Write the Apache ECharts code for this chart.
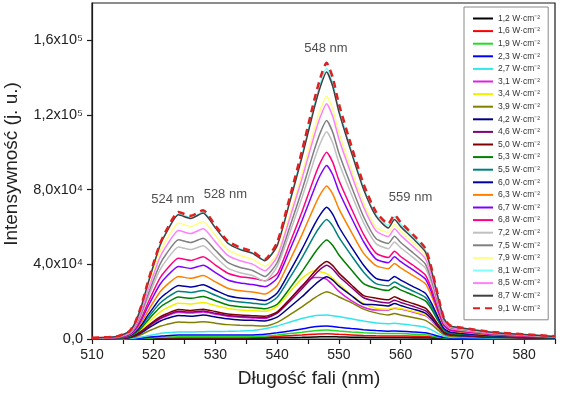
<!DOCTYPE html>
<html><head><meta charset="utf-8">
<script src="https://cdn.jsdelivr.net/npm/echarts@6/dist/echarts.min.js"></script>
<style>html,body{margin:0;padding:0;background:#fff}#c{width:567px;height:399px}</style>
</head><body><div id="c"></div>
<script>
// wavelength (nm)
const wavelengths = [510,514,516,517,518,519,520,521,522,524,526,528,530,532,534,536,538,540,542,544,546,547,548,549,550,552,554,556,558,559,560,562,564,565,566,567,568,570,575,585];
const xTickValues = [510,520,530,540,550,560,570,580];
// intensity in units of 10^3
const yTickValues = [0,40,80,120,160];
const yTickLabels = ['0,0','4,0x10\u2074','8,0x10\u2074','1,2x10\u2075','1,6x10\u2075'];
const seriesNames = ['1,2 W·cm⁻²','1,6 W·cm⁻²','1,9 W·cm⁻²','2,3 W·cm⁻²','2,7 W·cm⁻²','3,1 W·cm⁻²','3,4 W·cm⁻²','3,9 W·cm⁻²','4,2 W·cm⁻²','4,6 W·cm⁻²','5,0 W·cm⁻²','5,3 W·cm⁻²','5,5 W·cm⁻²','6,0 W·cm⁻²','6,3 W·cm⁻²','6,7 W·cm⁻²','6,8 W·cm⁻²','7,2 W·cm⁻²','7,5 W·cm⁻²','7,9 W·cm⁻²','8,1 W·cm⁻²','8,5 W·cm⁻²','8,7 W·cm⁻²','9,1 W·cm⁻²'];

const s1_2 = [0.3,0.3,0.3,0.3,0.4,0.4,0.4,0.5,0.5,0.5,0.5,0.5,0.5,0.5,0.5,0.5,0.6,0.7,0.8,0.9,1.1,1.2,1.2,1.2,1.1,1,0.9,0.8,0.8,0.8,0.8,0.7,0.7,0.6,0.5,0.4,0.4,0.3,0.3,0.3];
const s1_6 = [0.8,0.8,0.8,0.8,0.8,0.8,0.8,0.8,0.8,0.8,0.8,0.8,0.8,0.8,0.8,0.9,1.1,1.4,1.8,2.2,2.6,2.7,2.8,2.7,2.5,2.2,1.9,1.7,1.6,1.6,1.6,1.5,1.4,1.2,1,0.9,0.8,0.8,0.8,0.8];
const s1_9 = [0,0,0.1,0.2,0.3,0.5,0.7,0.9,1,1.2,1.2,1.2,1.2,1.2,1.2,1.3,1.6,2.2,2.9,3.6,4.4,4.7,4.8,4.6,4.3,3.8,3.4,3.1,2.9,3,2.9,2.6,2.3,1.8,1.1,0.6,0.4,0.3,0.2,0.1];
const s2_3 = [0,0.1,0.2,0.3,0.5,0.9,1.2,1.5,1.8,2.1,2.1,2.1,2.1,2.1,2.1,2.2,2.5,3.3,4.3,5.4,6.5,6.8,6.9,6.7,6.3,5.6,5,4.5,4.2,4.3,4.2,3.8,3.3,2.6,1.6,0.8,0.5,0.4,0.3,0.1];
const s2_7 = [0.1,0.1,0.3,0.5,1,1.7,2.3,2.9,3.3,3.8,3.7,3.9,4,4.1,4.3,4.6,5.5,7,9,11,12.5,12.7,12.8,12.5,12,10.8,9.6,8.6,8.2,8.4,8.1,7.3,6.3,4.9,3,1.5,1,0.8,0.5,0.2];
const s3_1 = [0.2,0.3,0.8,1.9,3.8,6.2,8.6,10.7,12.2,14.3,13.9,14.5,13.3,12.2,11.6,11.3,11,14,21,28.5,33,33,32,29,25.5,20.5,17,15.5,15.5,16.5,16,14.5,12.5,10,6.2,2.9,1.8,1.4,0.9,0.4];
const s3_4 = [0.2,0.4,1.1,2.5,5.1,8.4,11.5,14.4,16.4,19.2,18.7,19.5,17.9,16.4,15.6,15.2,14.8,17.5,25,32.5,36.5,36,35,32.5,29.5,23.5,19,16.5,16,16.8,16.3,14.8,13,10.5,6.5,3,1.8,1.4,0.9,0.4];
const s3_9 = [0.1,0.2,0.5,1.2,2.4,4,5.4,6.8,7.7,9.1,8.8,9.2,8.5,7.7,7.4,7.2,7,8.9,12.9,17.2,21.9,23.9,25.3,24.2,22.5,19.5,16,14,12.9,13.7,12.9,11.5,10,7.8,4.9,2.3,1.5,1.2,0.8,0.3];
const s4_2 = [0.2,0.3,0.7,1.7,3.3,5.5,7.6,9.5,10.8,12.6,12.2,12.8,11.8,10.8,10.2,10,9.7,11.7,17,22.6,28.8,31.5,33.3,31.5,28.3,23.3,18.6,18.4,17.7,19,17.9,16,13.9,10.8,6.8,3.2,2.1,1.7,1,0.4];
const s4_6 = [0.2,0.3,0.9,2,3.9,6.5,8.9,11.1,12.6,14.8,14.4,15,13.8,12.6,12,11.7,11.4,13.8,20.1,26.9,34.2,37.4,39.5,37.4,33.6,27.7,22.1,20.2,19.3,20.8,19.6,17.5,15.2,11.9,7.5,3.5,2.3,1.9,1.1,0.5];
const s5_0 = [0.2,0.3,0.9,2.1,4.2,6.9,9.4,11.8,13.4,15.8,15.3,16,14.7,13.4,12.8,12.5,12.2,14.5,21.2,28.2,35.9,39.3,41.5,39.3,35.3,29.1,23.2,21.9,21,22.6,21.2,19,16.5,12.9,8.1,3.8,2.5,2,1.2,0.5];
const s5_3 = [0.2,0.5,1.3,3,5.9,9.8,13.5,16.9,19.2,22.5,21.8,22.8,20.5,18.2,17.3,16.9,16.2,18.6,27,36,45.8,50.1,53,50.1,45,37.1,29.7,27.2,26,28,26.3,23.5,20.4,16,10.1,4.8,3.1,2.5,1.5,0.6];
const s5_5 = [0.3,0.5,1.5,3.4,6.8,11.2,15.3,19.2,21.8,25.6,24.9,26,23.4,20.8,19.8,19.2,18.5,22.4,32.6,43.5,55.4,60.5,64,60.5,54.4,44.8,35.8,29.7,28.5,30.6,28.8,25.7,22.3,17.4,11,5.2,3.4,2.8,1.7,0.7];
const s6_0 = [0.3,0.6,1.7,3.8,7.5,12.5,17.1,21.5,24.4,28.6,27.8,29,26.1,23.2,22,21.5,20.6,24.7,36,48,61.1,66.8,70.6,66.8,60,49.4,39.5,32.5,31.2,33.5,31.5,28.1,24.5,19.1,12.1,5.7,3.7,3,1.8,0.7];
const s6_3 = [0.3,0.7,2,4.4,8.8,14.6,20.1,25.2,28.6,33.5,32.5,34,30.6,27.2,25.8,25.2,24.1,28.7,41.8,55.8,70.9,77.6,82,77.6,69.7,57.4,45.9,39.3,37.7,40.5,38.1,34,29.6,23.1,14.6,6.9,4.5,3.6,2.2,0.9];
const s6_7 = [0.3,0.8,2.3,5.1,10.3,17,23.3,29.2,33.2,38.9,37.8,39.5,35.6,31.6,30,29.2,28,32.6,47.4,63.2,80.4,88,93,88,79,65.1,52.1,42.8,40.9,44,41.4,37,32.1,25.1,15.8,7.5,4.8,4,2.4,1];
const s6_8 = [0.4,0.9,2.6,5.7,11.4,18.9,26,32.6,37,43.3,42.1,44,39.6,35.2,33.4,32.6,31.2,35,51,68,86.5,94.6,100,94.6,85,70,56,46,43.7,47,44.2,39.5,34.3,26.8,16.9,8,5.2,4.2,2.6,1];
const s7_2 = [0.4,1,2.9,6.5,13,21.5,29.5,37,42,49.3,47.9,50,44,38,35.5,34,31,38.9,56.6,75.5,96,105,111,105,94.4,77.7,62.2,51.1,48.4,52,48.9,43.7,38,29.6,18.7,8.8,5.7,4.7,2.9,1.1];
const s7_5 = [0.4,1.1,3.1,7,14,23.2,31.9,40,45.4,53.2,51.7,54,47.5,41,38.3,36.7,33.5,41,59.7,79.6,101.2,110.7,117,110.7,99.5,81.9,65.5,53.8,51.2,55,51.7,46.2,40.2,31.4,19.8,9.4,6.1,5,3,1.2];
const s7_9 = [0.5,1.3,3.7,8.2,16.4,27.1,37.2,46.6,52.9,62.1,60.3,63,55.4,47.9,44.7,42.8,39.1,45.5,66.3,88.4,112.5,123,130,123,110.5,91,72.8,59.8,57.2,61.5,57.8,51.7,44.9,35.1,22.1,10.5,6.8,5.5,3.4,1.4];
const s8_1 = [0.5,1.4,3.9,8.8,17.7,29.2,40.1,50.3,57.1,67,65.1,68,59.8,51.7,48.3,46.2,42.2,50.8,74,98.6,125.4,137.2,145,137.2,123.3,101.5,81.2,66.7,60.9,65.5,61.6,55,47.8,37.3,23.6,11.1,7.2,5.9,3.6,1.4];
const s8_5 = [0.5,1.2,3.4,7.7,15.3,25.4,34.8,43.7,49.6,58.1,56.5,59,51.9,44.8,41.9,40.1,36.6,44.1,64.3,85.7,109,119.2,126,119.2,107.1,88.2,70.6,58,54.9,59,55.5,49.6,43.1,33.6,21.2,10,6.5,5.3,3.2,1.3];
const s8_7 = [0.5,1.4,3.9,8.8,17.6,29,39.8,50,56.7,66.5,64.6,67.5,59.4,51.3,47.9,45.9,41.9,50,72.9,97.2,123.7,135.3,143,135.3,121.6,100.1,80.1,65.8,59.5,64,60.2,53.8,46.7,36.5,23,10.9,7,5.8,3.5,1.4];
const s9_1 = [0.6,1.4,4.0,9.0,18,30,41,51,58,68,66,69,60.7,52.4,49,46.9,42.8,51.8,75.5,100.6,128,140,148,140,125.8,103.6,82.9,68.1,61.8,66.5,62.5,55.9,48.5,37.9,23.9,11.3,7.3,6.0,3.7,1.5];

const seriesValues = [s1_2,s1_6,s1_9,s2_3,s2_7,s3_1,s3_4,s3_9,s4_2,s4_6,s5_0,s5_3,s5_5,s6_0,s6_3,s6_7,s6_8,s7_2,s7_5,s7_9,s8_1,s8_5,s8_7,s9_1];
const annotationTexts = ['524 nm','528 nm','548 nm','559 nm'];
const annotationX = [523.1,531.6,547.9,561.6];
const annotationY = [74.8,77.4,155.4,75.8];

const colors = ['#000000','#ff0000','#22dd22','#0000ff','#33e6ee','#e020e0','#f2f200','#808000','#000080','#800080','#800000','#008000','#008080','#0000a0','#ff8000','#8000ff','#ff0080','#c0c0c0','#808080','#ffff80','#80ffff','#ff80ff','#404040','#e02020'];

const FONT = 'Liberation Sans, Arial, sans-serif';
const series = seriesValues.map((vals, i) => {
  const last = i === seriesValues.length - 1;
  return {
    name: seriesNames[i], type: 'line', showSymbol: false, symbol: 'none',
    smooth: 0.2, animation: false,
    data: wavelengths.map((x, j) => [x, vals[j]]),
    itemStyle: { color: colors[i] },
    lineStyle: { color: colors[i], width: last ? 2.5 : 1.5, type: last ? [7, 5] : 'solid' },
    z: 2 + i
  };
});
series.push({
  type: 'scatter', silent: true, animation: false, symbolSize: 1, z: 40,
  itemStyle: { color: 'rgba(0,0,0,0)' },
  data: annotationTexts.map((t, i) => [annotationX[i], annotationY[i], t]),
  label: { show: true, position: 'inside', formatter: p => p.value[2], color: '#222', fontSize: 13, fontFamily: FONT }
});

const chart = echarts.init(document.getElementById('c'), null, { renderer: 'canvas' });
chart.setOption({
  animation: false,
  backgroundColor: '#fff',
  grid: { left: 92, right: 12, top: 3, bottom: 60, containLabel: false, outerBoundsMode: 'none',
    show: true, borderColor: '#1a1a1a', borderWidth: 1.2, backgroundColor: 'transparent' },
  xAxis: {
    type: 'value', min: 510, max: 585, interval: 5,
    name: 'Długość fali (nm)', nameLocation: 'middle', nameGap: 30,
    nameTextStyle: { fontSize: 19, fontFamily: FONT, color: '#222', padding: [0, 29, 0, 0] },
    axisLine: { show: true, lineStyle: { color: '#1a1a1a', width: 1.2 } },
    axisTick: { show: true, inside: false, length: 5, lineStyle: { color: '#1a1a1a', width: 1.2 } },
    axisLabel: { margin: 9, fontSize: 14, fontFamily: FONT, color: '#222',
      formatter: v => (xTickValues.indexOf(v) >= 0 ? String(v) : '') },
    splitLine: { show: false }
  },
  yAxis: {
    type: 'value', min: 0, max: 180, interval: 40,
    name: 'Intensywność (j. u.)', nameLocation: 'middle', nameGap: 71, nameRotate: 90,
    nameTextStyle: { fontSize: 19, fontFamily: FONT, color: '#222', padding: [0, 0, 0, 14] },
    axisLine: { show: true, lineStyle: { color: '#1a1a1a', width: 1.2 } },
    axisTick: { show: true, inside: false, length: 5, customValues: yTickValues, lineStyle: { color: '#1a1a1a', width: 1.2 } },
    axisLabel: { margin: 9, fontSize: 14.5, fontFamily: FONT, color: '#222', customValues: yTickValues,
      formatter: v => { const k = yTickValues.indexOf(v); return k >= 0 ? yTickLabels[k] : ''; } },
    splitLine: { show: false }
  },
  legend: {
    orient: 'vertical', left: 464, top: 7, padding: [7, 8, 7, 8],
    itemWidth: 20, itemHeight: 8, itemGap: 3.6, selectedMode: false,
    borderColor: '#888', borderWidth: 1, backgroundColor: '#fff',
    itemStyle: { opacity: 0 },
    lineStyle: { width: 2 },
    data: seriesNames,
    textStyle: { fontSize: 8.5, lineHeight: 8, color: '#333', fontFamily: FONT }
  },
  series: series
});
</script></body></html>
